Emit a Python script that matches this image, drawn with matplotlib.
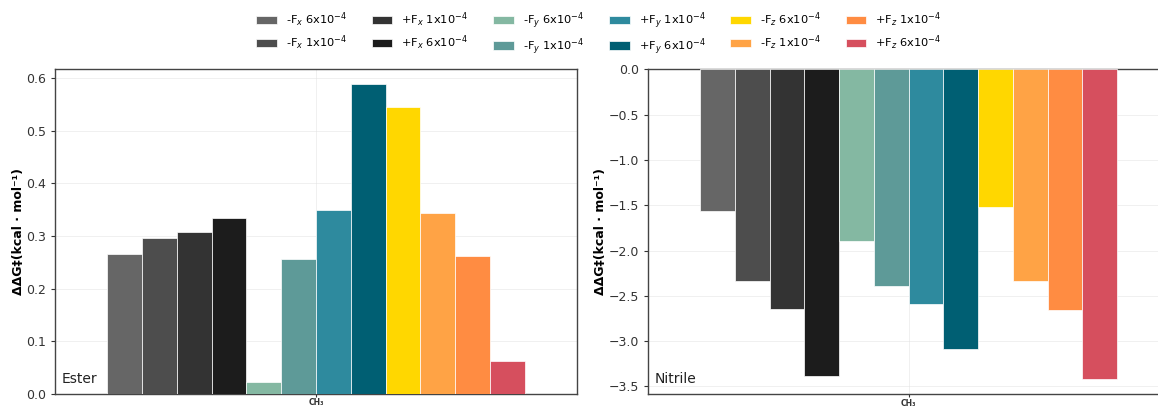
import numpy as np
import matplotlib
matplotlib.use("Agg")
import matplotlib.pyplot as plt

# series labels (legend order, same as bar order)
labels = [
    r"-F$_x$ 6x10$^{-4}$", r"-F$_x$ 1x10$^{-4}$",
    r"+F$_x$ 1x10$^{-4}$", r"+F$_x$ 6x10$^{-4}$",
    r"-F$_y$ 6x10$^{-4}$", r"-F$_y$ 1x10$^{-4}$",
    r"+F$_y$ 1x10$^{-4}$", r"+F$_y$ 6x10$^{-4}$",
    r"-F$_z$ 6x10$^{-4}$", r"-F$_z$ 1x10$^{-4}$",
    r"+F$_z$ 1x10$^{-4}$", r"+F$_z$ 6x10$^{-4}$",
]
colors = [
    "#666666", "#4d4d4d", "#333333", "#1c1c1c",
    "#84b8a2", "#5e9a98", "#2e8a9e", "#005f73",
    "#ffd700", "#ffa345", "#ff8c42", "#d64f5e",
]

category = "CH₃"
ester = [0.265, 0.297, 0.308, 0.335, 0.022, 0.256,
         0.350, 0.588, 0.545, 0.343, 0.262, 0.063]
nitrile = [-1.567, -2.338, -2.644, -3.389, -1.896, -2.390,
           -2.589, -3.086, -1.520, -2.331, -2.651, -3.418]

ylabel = "ΔΔG‡(kcal · mol⁻¹)"

fig = plt.figure(figsize=(11.58, 4.09), dpi=100)
ax1 = fig.add_axes([0.0475, 0.0367, 0.4508, 0.7946])
ax2 = fig.add_axes([0.5596, 0.0355, 0.4500, 0.7946])

n = len(labels)
group_w = 0.8
w = group_w / n
offsets = -group_w / 2 + w / 2 + np.arange(n) * w


def draw(ax, values, name):
    handles = []
    for i in range(n):
        h = ax.bar(offsets[i], values[i], width=w, color=colors[i],
                   edgecolor="white", linewidth=0.5, label=labels[i], zorder=3)
        handles.append(h)
    ax.set_xlim(-0.5, 0.5)
    ax.set_xticks([0])
    ax.set_xticklabels([category], fontsize=5.5, fontweight="bold")
    ax.set_ylabel(ylabel, fontsize=9, fontweight="bold", labelpad=1)
    ax.grid(True, color="#dddddd", linewidth=0.5, alpha=0.6, zorder=0)
    ax.tick_params(axis="y", labelsize=9, colors="#333333", length=3)
    ax.tick_params(axis="x", colors="#333333", length=2.5, pad=0.5)
    for s in ax.spines.values():
        s.set_color("#444444")
        s.set_linewidth(1.0)
    ax.text(0.012, 0.025, name, transform=ax.transAxes, fontsize=10,
            ha="left", va="bottom", color="#222222", zorder=5)
    return handles


handles = draw(ax1, ester, "Ester")
ax1.set_ylim(0, max(ester) * 1.05)
draw(ax2, nitrile, "Nitrile")
ax2.set_ylim(min(nitrile) * 1.05, 0)

fig.legend(handles, labels, loc="upper center", bbox_to_anchor=(0.517, 1.0),
           ncol=6, frameon=False, fontsize=8.2, handlelength=1.8,
           handleheight=0.8, columnspacing=2.2, labelspacing=0.4)

fig.savefig("out.png", dpi=100)
